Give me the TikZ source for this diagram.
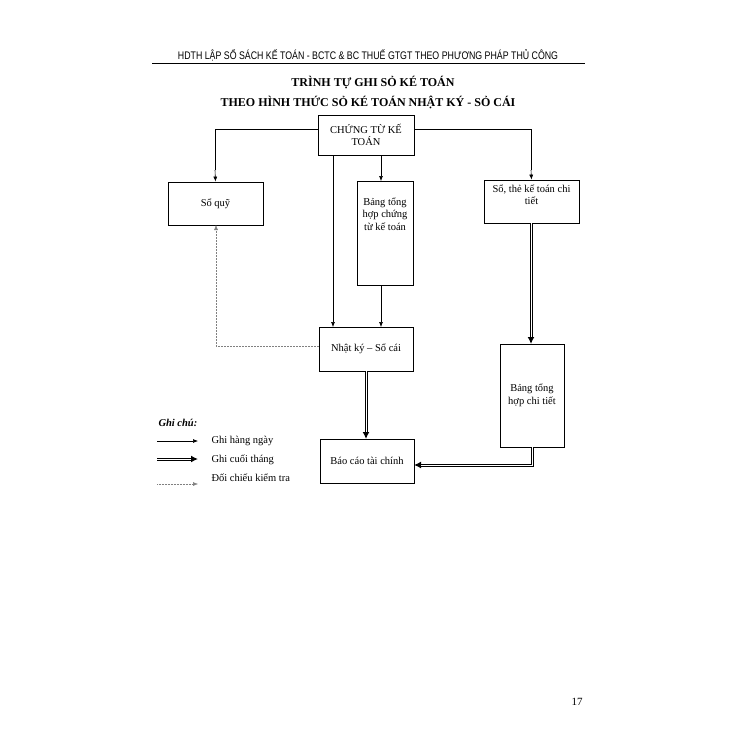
\documentclass[tikz,border=0pt]{standalone}
\usepackage{fontspec}
\setmainfont{Liberation Serif}
\newfontfamily\hdr{Liberation Sans}[FakeStretch=0.8]
\usetikzlibrary{arrows.meta}
\begin{document}
\begin{tikzpicture}[x=1pt,y=-1pt,
 box/.style={draw,line width=0.8pt,align=center,font=\fontsize{10.5}{12.5}\selectfont,inner sep=1pt},
 daily/.style={-{Latex[length=5pt,width=4pt]},line width=0.6pt},
 monthly/.style={line width=3pt,-{Latex[length=7pt,width=7pt]},postaction={draw=white,line width=1pt,shorten >=7pt,-}},
 check/.style={-{Latex[length=5pt,width=4pt]},densely dotted,line width=0.5pt,gray}]
\useasboundingbox (0,0) rectangle (750,750);
\node[font=\hdr\fontsize{11}{12}\selectfont] (hd) at (368,55) {HDTH LẬP SỔ SÁCH KẾ TOÁN - BCTC \& BC THUẾ GTGT THEO PHƯƠNG PHÁP THỦ CÔNG};
\draw[line width=1pt] (152,63) -- (585,63);
\node[font=\bfseries\fontsize{12}{14}\selectfont] (t1) at (373,83) {TRÌNH TỰ GHI SỎ KÉ TOÁN};
\node[font=\bfseries\fontsize{12}{14}\selectfont] (t2) at (368,102) {THEO HÌNH THỨC SỎ KÉ TOÁN NHẬT KÝ - SỎ CÁI};
\node[box,minimum width=96pt,minimum height=40pt] (ct) at (366,135) {CHỨNG TỪ KẾ\\TOÁN};
\node[box,minimum width=95pt,minimum height=43pt] (sq) at (215.5,203.5) {Sổ quỹ};
\node[box,minimum width=56pt,minimum height=104pt,anchor=north] (bth) at (385,181) {Bảng tổng\\hợp chứng\\từ kế toán\\[26pt]};
\node[box,minimum width=95pt,minimum height=43pt] (sct) at (531.5,201.5) {Sổ, thẻ kế toán chi\\tiết\\[1pt]};
\node[box,minimum width=94pt,minimum height=44pt] (nk) at (366,349) {Nhật ký – Sổ cái};
\node[box,minimum width=64pt,minimum height=103pt] (bct) at (532,395.5) {Bảng tổng\\hợp chi tiết};
\node[box,minimum width=94pt,minimum height=44pt] (bc) at (367,461) {Báo cáo tài chính};
\draw[line width=0.6pt] (ct.west |- 0,129) -| (215,170);
\draw[daily] (215,170) -- (sq.north);
\draw[line width=0.6pt] (ct.east |- 0,129) -| (531,170);
\draw[daily] (531,170) -- (sct.north);
\draw[daily] (333,155) -- (333,327);
\draw[daily] (381,155) -- (381,181);
\draw[daily] (381,285) -- (381,327);
\draw[check] (nk.west |- 0,346) -| (216,225);
\draw[monthly] (531,223) -- (531,344);
\draw[monthly] (366,371) -- (366,439);
\draw[monthly] (532,447) |- (414,465);
\node[font=\bfseries\itshape\fontsize{10.5}{12}\selectfont,anchor=west] (gc) at (155,423) {Ghi chú:};
\coordinate (l1a) at (157,441); \coordinate (l1b) at (198,441);
\coordinate (l2a) at (157,459); \coordinate (l2b) at (198,459);
\coordinate (l3a) at (157,484); \coordinate (l3b) at (198,484);
\draw[daily] (l1a) -- (l1b);
\draw[monthly] (l2a) -- (l2b);
\draw[check] (l3a) -- (l3b);
\node[font=\fontsize{10.5}{12}\selectfont,anchor=west] (g1) at (208,441) {Ghi hàng ngày};
\node[font=\fontsize{10.5}{12}\selectfont,anchor=west] (g2) at (208,460) {Ghi cuối tháng};
\node[font=\fontsize{10.5}{12}\selectfont,anchor=west] (g3) at (208,478) {Đối chiếu kiểm tra};
\node[font=\fontsize{11}{12}\selectfont] (pg) at (577,702) {17};
\end{tikzpicture}
\end{document}
